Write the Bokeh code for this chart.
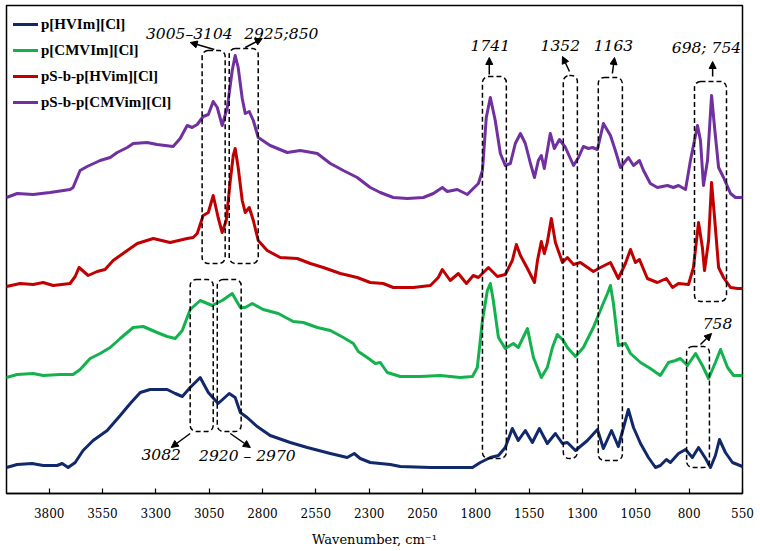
from bokeh.plotting import figure
from bokeh.models import (Range1d, FixedTicker, Legend, LegendItem, BoxAnnotation,
                          Arrow, NormalHead, ColumnDataSource)
from bokeh.core.properties import value
from bokeh.embed import file_html
from bokeh.resources import INLINE

# ---- FTIR spectra: wavenumber (cm-1) vs. stacked absorbance (a.u., offset) ----
hvim_wn = [4000, 3950, 3880, 3828, 3763, 3739, 3711, 3678, 3641, 3594, 3528, 3467, 3420,
           3373, 3327, 3247, 3209, 3176, 3139, 3092, 3054, 3008, 2956, 2928, 2904, 2872,
           2825, 2764, 2670, 2590, 2482, 2403, 2370, 2342, 2295, 2201, 2154, 2013, 1873,
           1816, 1779, 1732, 1694, 1662, 1629, 1601, 1568, 1535, 1502, 1465, 1427, 1394,
           1371, 1333, 1277, 1230, 1202, 1164, 1132, 1085, 1061, 1028, 991, 958, 935, 907,
           888, 850, 817, 785, 756, 723, 700, 677, 658, 630, 597, 550]
hvim_abs = [26, 29, 30, 28, 28, 30, 26, 31, 43, 53, 63, 78, 90,
            101, 104, 104, 100, 97, 106, 116, 101, 90, 100, 96, 81, 76,
            67, 58, 51, 46, 40, 36, 40, 35, 31, 29, 27, 26, 26,
            26, 31, 36, 38, 46, 65, 53, 63, 51, 65, 50, 60, 50,
            51, 43, 53, 64, 45, 63, 47, 84, 66, 50, 36, 26, 28, 34,
            31, 40, 44, 36, 46, 35, 26, 38, 54, 41, 31, 27]

cmvim_wn = [4000, 3950, 3875, 3828, 3749, 3688, 3655, 3608, 3561, 3514, 3467, 3406, 3359,
            3294, 3247, 3209, 3176, 3139, 3092, 3036, 2989, 2942, 2904, 2881, 2848, 2797,
            2726, 2656, 2609, 2543, 2482, 2421, 2374, 2351, 2309, 2271, 2248, 2215, 2154,
            2060, 1966, 1873, 1816, 1793, 1769, 1746, 1732, 1718, 1694, 1662, 1624, 1601,
            1558, 1530, 1493, 1465, 1441, 1418, 1390, 1371, 1333, 1296, 1249, 1207, 1183,
            1169, 1155, 1132, 1099, 1075, 1028, 982, 935, 897, 864, 841, 808, 770, 738,
            709, 677, 653, 620, 592, 550]
cmvim_abs = [116, 119, 120, 118, 119, 119, 124, 135, 140, 146, 155, 166, 167,
             161, 157, 155, 163, 184, 193, 188, 193, 200, 186, 186, 190, 184,
             180, 172, 171, 166, 163, 156, 150, 142, 136, 130, 131, 121, 117,
             117, 118, 116, 117, 126, 173, 203, 210, 193, 156, 145, 150, 146,
             165, 136, 116, 126, 146, 159, 153, 146, 137, 146, 166, 188, 200,
             208, 190, 148, 150, 140, 131, 125, 118, 131, 133, 135, 128, 140, 128,
             115, 131, 144, 126, 118, 118]

ps_hvim_wn = [4000, 3936, 3875, 3828, 3781, 3702, 3678, 3660, 3617, 3575, 3538, 3500, 3434,
              3387, 3312, 3233, 3153, 3125, 3106, 3092, 3078, 3054, 3031, 3008, 2989, 2970,
              2951, 2937, 2928, 2914, 2895, 2881, 2862, 2843, 2820, 2778, 2717, 2637, 2576,
              2515, 2435, 2356, 2295, 2234, 2187, 2093, 2013, 1976, 1957, 1920, 1882, 1844,
              1812, 1788, 1741, 1699, 1662, 1629, 1610, 1591, 1558, 1525, 1511, 1493, 1479,
              1465, 1446, 1427, 1394, 1371, 1342, 1310, 1249, 1216, 1169, 1132, 1099, 1075,
              1052, 1033, 996, 949, 907, 878, 850, 803, 780, 756, 738, 728, 709, 695, 681,
              662, 639, 606, 573, 550]
ps_hvim_abs = [207, 210, 209, 211, 208, 210, 217, 226, 218, 222, 224, 233, 243,
               250, 255, 251, 255, 256, 260, 269, 278, 281, 298, 276, 261, 273,
               313, 338, 345, 326, 293, 281, 286, 273, 253, 243, 236, 235, 230,
               226, 220, 216, 211, 210, 206, 206, 208, 216, 224, 213, 220, 210,
               218, 216, 226, 217, 219, 233, 249, 238, 225, 211, 233, 252, 240,
               251, 275, 251, 231, 236, 229, 231, 222, 226, 231, 215, 230, 244,
               231, 234, 215, 211, 215, 206, 210, 209, 226, 271, 246, 223, 253, 311, 276,
               226, 216, 206, 205, 205]

ps_cmvim_wn = [4000, 3950, 3875, 3796, 3702, 3688, 3655, 3622, 3561, 3514, 3481, 3434, 3406,
               3341, 3294, 3219, 3186, 3153, 3130, 3106, 3078, 3054, 3031, 3012, 2989, 2965,
               2942, 2928, 2914, 2895, 2881, 2862, 2843, 2820, 2764, 2684, 2623, 2543, 2482,
               2421, 2356, 2295, 2248, 2187, 2121, 2046, 1999, 1957, 1934, 1887, 1840, 1812,
               1788, 1769, 1751, 1732, 1709, 1685, 1662, 1638, 1615, 1591, 1568, 1544, 1525,
               1507, 1493, 1479, 1451, 1432, 1408, 1380, 1342, 1319, 1296, 1272, 1253, 1230,
               1202, 1169, 1146, 1122, 1108, 1085, 1061, 1033, 1014, 982, 949, 902, 874, 850,
               817, 794, 761, 747, 733, 714, 695, 681, 662, 639, 606, 583, 550]
ps_cmvim_abs = [296, 300, 299, 301, 304, 306, 323, 327, 333, 336, 341, 346, 350,
                351, 349, 347, 355, 368, 366, 369, 377, 379, 392, 386, 368, 386,
                423, 438, 426, 395, 380, 382, 373, 356, 348, 341, 343, 340, 330,
                323, 316, 306, 301, 296, 295, 296, 300, 306, 302, 304, 299, 305,
                310, 323, 376, 396, 373, 340, 328, 330, 350, 360, 350, 330, 316,
                333, 338, 325, 360, 345, 354, 346, 328, 336, 347, 345, 346, 344,
                370, 358, 343, 326, 330, 336, 328, 333, 323, 310, 306, 308, 306, 308,
                304, 333, 368, 353, 308, 333, 398, 366, 326, 316, 300, 296, 296]

series_labels = ["p[HVIm][Cl]", "p[CMVIm][Cl]", "pS-b-p[HVim][Cl]", "pS-b-p[CMVim][Cl]"]
series_colors = ["#11296b", "#13b24f", "#c00000", "#7030a0"]

# ---- band markers: dashed frames (wavenumber span, absorbance span) ----
band_left = [3083, 2956, 3139, 3012, 1769, 1390, 1226, 775, 812]
band_right = [2975, 2820, 3031, 2900, 1657, 1324, 1113, 625, 705]
band_bottom = [230, 230, 62, 62, 35, 35, 33, 192, 26]
band_top = [443, 445, 214, 214, 417, 418, 416, 412, 147]

# ---- band labels and their pointers ----
label_text = ["3005\u20133104", "2925;850", "3082", "2920 \u2013 2970", "1741", "1352",
              "1163", "698; 754", "758"]
label_wn = [3143, 2712, 3275, 2871, 1732, 1404, 1155, 719, 667]
label_abs = [460, 460, 39, 38, 448, 448, 448, 446, 170]
arrow_wn0 = [3026, 2881, 3139, 2951, 1737, 1361, 1160, 690, 747]
arrow_abs0 = [444, 446, 60, 60, 419, 422, 420, 417, 149]
arrow_wn1 = [3139, 2801, 3228, 2857, 1737, 1394, 1150, 690, 695]
arrow_abs1 = [451, 455, 46, 46, 436, 437, 436, 432, 160]

ticks = [3800, 3550, 3300, 3050, 2800, 2550, 2300, 2050, 1800, 1550, 1300, 1050, 800, 550]

p = figure(width=760, height=551, output_backend="svg", toolbar_location=None,
           x_range=Range1d(4000, 550), y_range=Range1d(0, 488),
           y_axis_location=None, min_border_left=6, min_border_right=18,
           min_border_top=5, min_border_bottom=58)
p.grid.visible = False
p.outline_line_color = "black"
p.outline_line_width = 1.5
p.outline_line_alpha = 1
p.background_fill_color = "white"
p.border_fill_color = "white"

ax = p.xaxis[0]
ax.ticker = FixedTicker(ticks=ticks)
ax.minor_tick_line_color = None
ax.major_tick_in = 5
ax.major_tick_out = 0
ax.major_tick_line_width = 1.2
ax.axis_line_width = 1.5
ax.major_label_standoff = 14
ax.major_label_text_font = "DejaVu Serif"
ax.major_label_text_font_size = "12px"
ax.major_label_text_color = "black"
ax.axis_label = "Wavenumber, cm\u207b\u00b9"
ax.axis_label_text_font = "DejaVu Serif"
ax.axis_label_text_font_style = "normal"
ax.axis_label_text_font_size = "13px"
ax.axis_label_text_color = "black"
ax.axis_label_standoff = 11

spectra = [(hvim_wn, hvim_abs), (cmvim_wn, cmvim_abs),
           (ps_hvim_wn, ps_hvim_abs), (ps_cmvim_wn, ps_cmvim_abs)]
renderers = []
for (wn, ab), col in zip(spectra, series_colors):
    r = p.line(wn, ab, line_color=col, line_width=3, line_join="round", line_cap="round")
    renderers.append(r)

for l, r, b, t in zip(band_left, band_right, band_bottom, band_top):
    p.add_layout(BoxAnnotation(left=l, right=r, bottom=b, top=t,
                               fill_alpha=0, fill_color=None,
                               line_color="black", line_alpha=1.0, line_width=1.5,
                               line_dash="5 3", border_radius=6, level="overlay"))

arrow_src = ColumnDataSource(dict(x0=arrow_wn0, y0=arrow_abs0, x1=arrow_wn1, y1=arrow_abs1))
p.add_layout(Arrow(x_start="x0", y_start="y0", x_end="x1", y_end="y1", source=arrow_src,
                   line_color="black", line_width=1.5,
                   end=NormalHead(size=7, fill_color="black", line_color="black")))

label_src = ColumnDataSource(dict(x=label_wn, y=label_abs, t=label_text))
p.text(x="x", y="y", text="t", source=label_src, text_font=value("DejaVu Serif"),
       text_font_style="italic", text_font_size="15.5px", text_color="black",
       text_align="center", text_baseline="middle")

legend = Legend(items=[LegendItem(label=lab, renderers=[r])
                       for lab, r in zip(series_labels, renderers)],
                location="top_left", margin=2, padding=5, spacing=2,
                glyph_width=25, glyph_height=24, label_height=24, label_standoff=3,
                label_text_font="Liberation Serif", label_text_font_style="bold",
                label_text_font_size="15px", label_text_color="black",
                background_fill_alpha=0, border_line_alpha=0)
p.add_layout(legend)

open("out.html", "w").write(file_html(p, INLINE))
